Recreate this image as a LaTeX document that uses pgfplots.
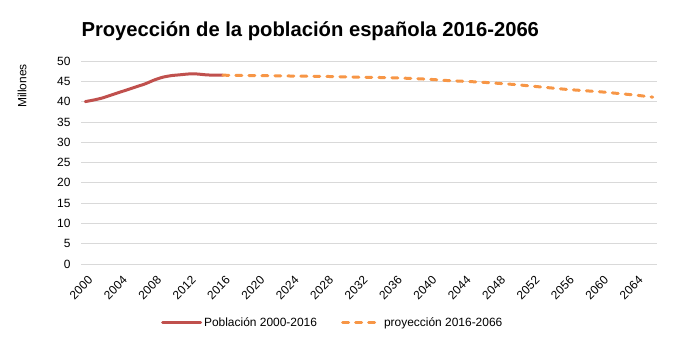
\documentclass[border=0pt]{standalone}
\usepackage{fontspec}
\setmainfont{Liberation Sans}
\usepackage{pgfplots}
\pgfplotsset{compat=1.18}
\definecolor{cred}{RGB}{192,80,77}
\definecolor{corange}{RGB}{247,150,70}
\definecolor{cgrid}{RGB}{217,217,217}
\begin{document}
\begin{tikzpicture}
\useasboundingbox (0,0) rectangle (685bp,345bp);
\node[anchor=west,font=\fontsize{20.3}{24}\selectfont\bfseries] at (78bp,314bp) {Proyección de la población española 2016-2066};
\node[rotate=90,font=\fontsize{12}{14}\selectfont] at (22bp,259bp) {Millones};
\begin{axis}[
  at={(81bp,81bp)}, anchor=south west,
  scale only axis, width=576bp, height=203bp,
  xmin=1999.5, xmax=2066.5, ymin=0, ymax=50,
  xtick={2000,2004,...,2064},
  ytick={0,5,...,50},
  /pgf/number format/1000 sep={},
  /pgf/number format/assume math mode=true,
  tick label style={font=\fontsize{12}{14}\selectfont},
  xticklabel style={rotate=45, anchor=north east, xshift=-3bp, yshift=-6bp},
  yticklabel style={xshift=-7bp},
  major tick length=0pt,
  ymajorgrids, grid style={cgrid, line width=0.8bp},
  axis x line*=bottom, axis y line*=left,
  x axis line style={cgrid, line width=0.8bp, -},
  y axis line style={draw=none},
  legend columns=2,
  legend style={at={(0.437,-0.29)}, anchor=center, draw=none, font=\fontsize{12}{14}\selectfont,
     /tikz/every even column/.append style={column sep=22bp}},
  legend cell align=left,
  legend image code/.code={\draw[#1] (0bp,0bp) -- (38bp,0bp);},
  clip=false,
]
\addplot[cred, line width=3bp, line cap=round, smooth, tension=0.4] coordinates {
(2000,40.0) (2001,40.4) (2002,40.9) (2003,41.6) (2004,42.3) (2005,43.0) (2006,43.7)
(2007,44.4) (2008,45.3) (2009,46.0) (2010,46.4) (2011,46.6) (2012,46.8) (2013,46.8)
(2014,46.6) (2015,46.5) (2016,46.5)};
\addlegendentry{Población 2000-2016}
\addplot[corange, line width=3bp, line cap=round, dash pattern=on 6bp off 7bp] coordinates {
(2016,46.5) (2018,46.45) (2020,46.4) (2022,46.35) (2024,46.3) (2026,46.25) (2028,46.2)
(2030,46.1) (2032,46.0) (2034,45.95) (2036,45.85) (2038,45.7) (2040,45.5) (2042,45.2)
(2044,45.0) (2046,44.8) (2048,44.5) (2050,44.2) (2052,43.8) (2054,43.4) (2056,43.0)
(2058,42.7) (2060,42.4) (2062,42.0) (2064,41.6) (2066,41.1)};
\addlegendentry{proyección 2016-2066}
\end{axis}
\end{tikzpicture}
\end{document}
